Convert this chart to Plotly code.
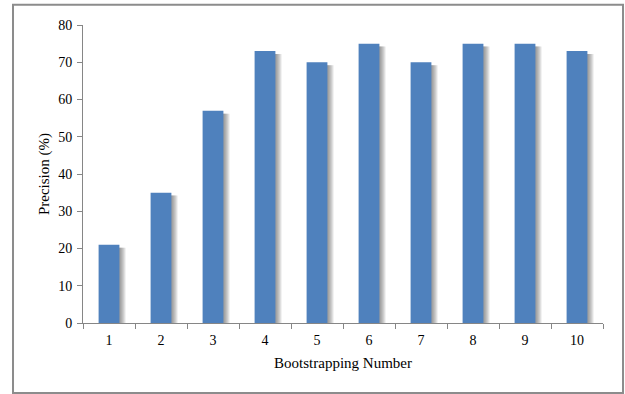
import plotly.graph_objects as go

# Precision per bootstrapping round
rounds = ["1", "2", "3", "4", "5", "6", "7", "8", "9", "10"]
precision = [21, 35, 57, 73, 70, 75, 70, 75, 75, 73]
y_ticks = [0, 10, 20, 30, 40, 50, 60, 70, 80]

BAR_COLOR = "#4F81BD"
AXIS_COLOR = "#868686"
FONT = "Liberation Serif"
BAR_W = 0.4

fig = go.Figure()

# soft drop shadow to the right of each bar, built from a few translucent layers
for dx in [0.12, 0.10, 0.08, 0.06, 0.04, 0.02]:
    fig.add_trace(go.Bar(
        x=rounds,
        y=[v - 0.8 for v in precision],
        width=BAR_W,
        offset=-BAR_W / 2 + dx,
        marker=dict(color="rgba(60,60,60,0.11)", line=dict(width=0)),
        hoverinfo="skip",
        showlegend=False,
    ))

fig.add_trace(go.Bar(
    x=rounds,
    y=precision,
    width=BAR_W,
    offset=-BAR_W / 2,
    marker=dict(color=BAR_COLOR, line=dict(width=0)),
    showlegend=False,
))

fig.update_layout(
    width=625,
    height=394,
    margin=dict(l=83, r=22, t=25, b=71),
    paper_bgcolor="white",
    plot_bgcolor="white",
    barmode="overlay",
    font=dict(family=FONT, size=14, color="#000000"),
    xaxis=dict(
        type="category",
        tickson="boundaries",
        ticks="outside",
        ticklen=5,
        tickcolor=AXIS_COLOR,
        showline=True,
        linecolor=AXIS_COLOR,
        linewidth=1,
        showgrid=False,
        tickfont=dict(family=FONT, size=14),
        ticklabelstandoff=4,
        title=dict(text="Bootstrapping Number", font=dict(family=FONT, size=15), standoff=10),
    ),
    yaxis=dict(
        range=[0, 80],
        tickvals=y_ticks,
        ticks="outside",
        ticklen=5,
        tickcolor=AXIS_COLOR,
        showline=True,
        linecolor=AXIS_COLOR,
        linewidth=1,
        showgrid=False,
        zeroline=False,
        tickfont=dict(family=FONT, size=14),
        ticklabelstandoff=2,
        title=dict(text="Precision (%)", font=dict(family=FONT, size=15), standoff=4),
    ),
    shapes=[dict(
        type="rect", xref="paper", yref="paper",
        x0=-0.1346, x1=1.0385, y0=-0.2347, y1=1.068,
        line=dict(color="#8C8C8C", width=2),
        fillcolor="rgba(0,0,0,0)",
        layer="below",
    )],
)

fig.write_html("out.html")
